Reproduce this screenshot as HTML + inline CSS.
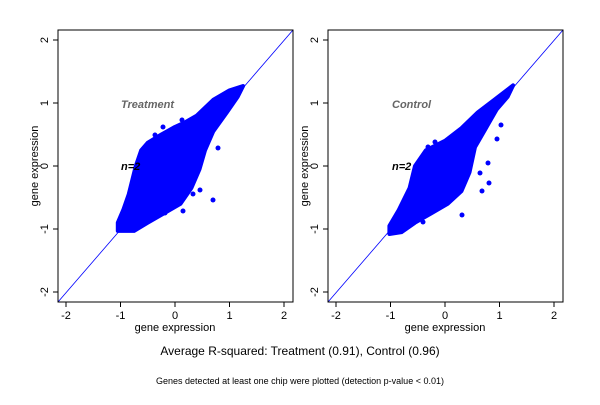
<!DOCTYPE html>
<html><head><meta charset="utf-8"><style>
body{margin:0;background:#fff;}
svg text{font-family:"Liberation Sans",Arial,sans-serif;}
</style></head><body>
<svg width="600" height="400" viewBox="0 0 600 400" xmlns="http://www.w3.org/2000/svg">
<defs>
<clipPath id="c1"><rect x="58" y="30" width="235" height="272"/></clipPath>
<clipPath id="c2"><rect x="328" y="30" width="235" height="272"/></clipPath>
</defs>
<!-- Panel 1 -->
<g clip-path="url(#c1)">
<polygon fill="#0000ff" stroke="#0000ff" stroke-width="4" stroke-linejoin="round"
points="117.8,230.9 117.8,222.7 123.2,210.1 128.7,194.4 135.8,166 141.2,150.3 147.8,142.7 161.4,134.5 175,126.9 185.9,121.9 196.8,115.6 213.2,99.9 229.5,90.4 243.1,86 237.7,96.7 226.8,112.5 213.2,131.4 205,150.3 199.5,169.2 191.4,188 180.5,203.8 164.1,213.3 147.8,222.7 134.1,230.9"/>
<g fill="#0000ff">
<circle cx="213" cy="200" r="2.5"/><circle cx="163" cy="127" r="2.5"/><circle cx="182" cy="120" r="2.5"/>
<circle cx="155" cy="135" r="2.5"/><circle cx="145" cy="155" r="2.5"/><circle cx="218" cy="148" r="2.5"/>
<circle cx="193" cy="194" r="2.5"/><circle cx="200" cy="190" r="2.5"/><circle cx="183" cy="211" r="2.5"/>
<circle cx="165" cy="213" r="2.5"/><circle cx="223" cy="105" r="2.5"/>
</g>
<line x1="58" y1="302" x2="293" y2="30" stroke="#0000ff" stroke-width="0.8"/>
</g>
<rect x="58" y="30" width="235" height="272" fill="none" stroke="#000" stroke-width="1"/>
<g stroke="#000" stroke-width="1">
<line x1="66" y1="302" x2="66" y2="307"/><line x1="120.5" y1="302" x2="120.5" y2="307"/><line x1="175" y1="302" x2="175" y2="307"/><line x1="229.5" y1="302" x2="229.5" y2="307"/><line x1="284" y1="302" x2="284" y2="307"/>
<line x1="53" y1="40" x2="58" y2="40"/><line x1="53" y1="103" x2="58" y2="103"/><line x1="53" y1="166" x2="58" y2="166"/><line x1="53" y1="229" x2="58" y2="229"/><line x1="53" y1="292" x2="58" y2="292"/>
</g>
<g font-size="11" text-anchor="middle" fill="#000">
<text x="66" y="319">-2</text><text x="120.5" y="319">-1</text><text x="175" y="319">0</text><text x="229.5" y="319">1</text><text x="284" y="319">2</text>
<text x="175" y="331">gene expression</text>
<text transform="translate(48,40) rotate(-90)">2</text>
<text transform="translate(48,103) rotate(-90)">1</text>
<text transform="translate(48,166) rotate(-90)">0</text>
<text transform="translate(48,229) rotate(-90)">-1</text>
<text transform="translate(48,292) rotate(-90)">-2</text>
<text transform="translate(38,166) rotate(-90)">gene expression</text>
</g>
<text x="121" y="108" font-size="11" font-weight="bold" font-style="italic" fill="#666">Treatment</text>
<text x="121" y="170" font-size="11" font-weight="bold" font-style="italic" fill="#000">n=2</text>

<!-- Panel 2 -->
<g clip-path="url(#c2)">
<polygon fill="#0000ff" stroke="#0000ff" stroke-width="4" stroke-linejoin="round"
points="389.4,234 389.4,225.9 398.7,210.1 409.6,188 415,166 425.9,150.3 445,140.8 461.4,128.2 477.7,112.5 494.1,99.9 513.1,85.4 507.7,96.7 496.8,109.3 485.9,128.2 475,147.1 469.5,172.3 461.4,191.2 447.7,203.8 431.4,213.3 415,222.7 401.4,232.2"/>
<g fill="#0000ff">
<circle cx="501" cy="125" r="2.5"/><circle cx="489" cy="183" r="2.5"/><circle cx="482" cy="191" r="2.5"/>
<circle cx="462" cy="215" r="2.5"/><circle cx="423" cy="222" r="2.5"/><circle cx="435" cy="142" r="2.5"/>
<circle cx="428" cy="147" r="2.5"/><circle cx="497" cy="139" r="2.5"/><circle cx="488" cy="163" r="2.5"/>
<circle cx="480" cy="173" r="2.5"/>
</g>
<line x1="328" y1="302" x2="563" y2="30" stroke="#0000ff" stroke-width="0.8"/>
</g>
<rect x="328" y="30" width="235" height="272" fill="none" stroke="#000" stroke-width="1"/>
<g stroke="#000" stroke-width="1">
<line x1="336" y1="302" x2="336" y2="307"/><line x1="390.5" y1="302" x2="390.5" y2="307"/><line x1="445" y1="302" x2="445" y2="307"/><line x1="499.5" y1="302" x2="499.5" y2="307"/><line x1="554" y1="302" x2="554" y2="307"/>
<line x1="323" y1="40" x2="328" y2="40"/><line x1="323" y1="103" x2="328" y2="103"/><line x1="323" y1="166" x2="328" y2="166"/><line x1="323" y1="229" x2="328" y2="229"/><line x1="323" y1="292" x2="328" y2="292"/>
</g>
<g font-size="11" text-anchor="middle" fill="#000">
<text x="336" y="319">-2</text><text x="390.5" y="319">-1</text><text x="445" y="319">0</text><text x="499.5" y="319">1</text><text x="554" y="319">2</text>
<text x="445" y="331">gene expression</text>
<text transform="translate(318,40) rotate(-90)">2</text>
<text transform="translate(318,103) rotate(-90)">1</text>
<text transform="translate(318,166) rotate(-90)">0</text>
<text transform="translate(318,229) rotate(-90)">-1</text>
<text transform="translate(318,292) rotate(-90)">-2</text>
<text transform="translate(308,166) rotate(-90)">gene expression</text>
</g>
<text x="392" y="108" font-size="11" font-weight="bold" font-style="italic" fill="#666">Control</text>
<text x="392" y="170" font-size="11" font-weight="bold" font-style="italic" fill="#000">n=2</text>

<text x="300" y="355" font-size="12" text-anchor="middle">Average R-squared: Treatment (0.91), Control (0.96)</text>
<text x="300" y="384" font-size="9" text-anchor="middle">Genes detected at least one chip were plotted (detection p-value &lt; 0.01)</text>
</svg>
</body></html>
